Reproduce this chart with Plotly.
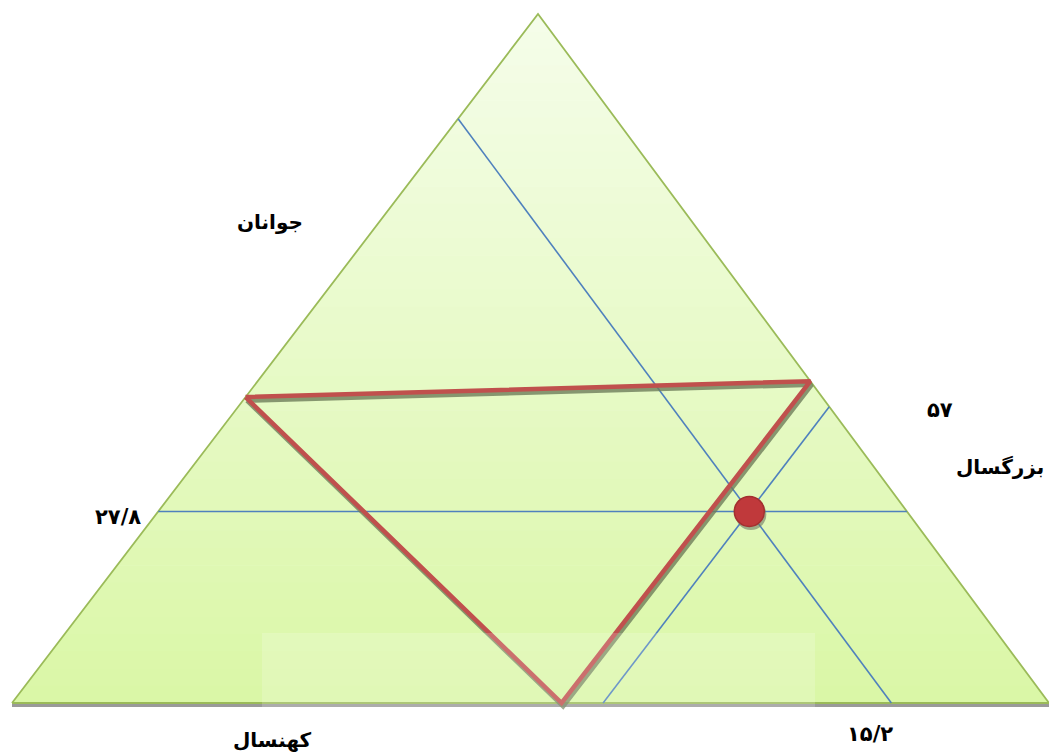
import plotly.graph_objects as go

# ---- data ----
groups = ["جوانان", "بزرگسال", "کهنسال"]      # youth, adult, elderly
values = [27.8, 57.0, 15.2]                    # percent
# reference (red) triangle vertices as compositions (youth, adult, elderly) in percent
ref_youth = [44.4, 46.7, 0.0]
ref_adult = [0.0, 53.3, 53.0]
ref_elder = [55.6, 0.0, 47.0]

# ---- geometry (pixel space of the page) ----
W, Hpx = 1049, 753
APEX = (538, 14)     # youth vertex
BL = (12, 703)       # elderly vertex
BR = (1049, 703)     # adult vertex


def tern(y, a, e):
    s = y + a + e
    y, a, e = y / s, a / s, e / s
    x = y * APEX[0] + a * BR[0] + e * BL[0]
    yy = y * APEX[1] + a * BR[1] + e * BL[1]
    return x, yy


def fa(v):
    digits = "۰۱۲۳۴۵۶۷۸۹"
    s = ("%g" % v).replace(".", "/")
    return "".join(digits[int(c)] if c.isdigit() else c for c in s)


fig = go.Figure()
shapes = []

# gradient fill of the triangle
N = 40
c0 = (245, 253, 234)
c1 = (218, 247, 166)
for i in range(N):
    t0, t1 = i / N, (i + 1) / N
    ya, yb = APEX[1] + (BL[1] - APEX[1]) * t0, APEX[1] + (BL[1] - APEX[1]) * t1 + 0.6
    xl0 = APEX[0] + (BL[0] - APEX[0]) * t0
    xr0 = APEX[0] + (BR[0] - APEX[0]) * t0
    xl1 = APEX[0] + (BL[0] - APEX[0]) * min(1, t1 + 0.6 / 689)
    xr1 = APEX[0] + (BR[0] - APEX[0]) * min(1, t1 + 0.6 / 689)
    tm = (t0 + t1) / 2
    col = tuple(round(c0[k] + (c1[k] - c0[k]) * tm) for k in range(3))
    shapes.append(dict(type="path", layer="below",
                       path=f"M{xl0},{ya} L{xr0},{ya} L{xr1},{yb} L{xl1},{yb} Z",
                       fillcolor="rgb(%d,%d,%d)" % col, line=dict(width=0)))

# base shadow
shapes.append(dict(type="line", x0=BL[0], y0=BL[1] + 2.5, x1=BR[0], y1=BR[1] + 2.5,
                   line=dict(color="rgba(120,120,120,0.75)", width=3), layer="below"))

# faint watermark band
shapes.append(dict(type="rect", x0=262, x1=815, y0=633, y1=753,
                   fillcolor="rgba(255,255,255,0.18)", line=dict(width=0), layer="above"))

fig.update_layout(shapes=shapes)

# outline
fig.add_trace(go.Scatter(x=[BL[0], APEX[0], BR[0], BL[0]], y=[BL[1], APEX[1], BR[1], BL[1]],
                         mode="lines", line=dict(color="#9bbb59", width=1.8),
                         hoverinfo="skip", showlegend=False))

Y, A, E = values
# blue construction lines
blue = dict(color="#4f81bd", width=1.6)
lines = [
    (tern(Y, 0, 100 - Y), tern(Y, 100 - Y, 0)),      # constant youth
    (tern(0, 100 - E, E), tern(100 - E, 0, E)),      # constant elderly
    (tern(0, A, 100 - A), tern(100 - A, A, 0)),      # constant adult
]
for p, q in lines:
    fig.add_trace(go.Scatter(x=[p[0], q[0]], y=[p[1], q[1]], mode="lines", line=blue,
                             hoverinfo="skip", showlegend=False))

# red reference triangle with shadow
rp = [tern(ref_youth[i], ref_adult[i], ref_elder[i]) for i in range(3)]
rx = [p[0] for p in rp] + [rp[0][0]]
ry = [p[1] for p in rp] + [rp[0][1]]
fig.add_trace(go.Scatter(x=[v + 1.5 for v in rx], y=[v + 3.5 for v in ry], mode="lines",
                         line=dict(color="rgba(110,125,90,0.8)", width=4.5),
                         hoverinfo="skip", showlegend=False))
fig.add_trace(go.Scatter(x=rx, y=ry, mode="lines",
                         line=dict(color="#c0504d", width=4.5),
                         hoverinfo="skip", showlegend=False))

# point
px, py = tern(Y, A, E)
fig.add_trace(go.Scatter(x=[px + 1.5], y=[py + 3], mode="markers",
                         marker=dict(size=31, color="rgba(110,120,100,0.6)"),
                         hoverinfo="skip", showlegend=False))
fig.add_trace(go.Scatter(x=[px], y=[py], mode="markers",
                         marker=dict(size=30, color="#c0393b",
                                     line=dict(color="#a3302f", width=1.5)),
                         hoverinfo="skip", showlegend=False))

# labels
ann = [
    (270, 222, groups[0], "center", 20),
    (118, 517, fa(Y), "center", 21),
    (940, 410, fa(A), "center", 21),
    (1046, 467, groups[1], "right", 20),
    (272, 740, groups[2], "center", 20),
    (870, 734, fa(E), "center", 21),
]
fig.update_layout(annotations=[dict(x=x, y=y, text="<b>%s</b>" % t, showarrow=False,
                                    xref="x", yref="y", xanchor=xa,
                                    font=dict(family="DejaVu Sans", size=s, color="black"))
                               for x, y, t, xa, s in ann])

fig.update_layout(width=W, height=Hpx, margin=dict(l=0, r=0, t=0, b=0),
                  paper_bgcolor="white", plot_bgcolor="white",
                  xaxis=dict(range=[0, W], visible=False, fixedrange=True),
                  yaxis=dict(range=[Hpx, 0], visible=False, fixedrange=True))

fig.write_html("out.html", config={"displayModeBar": False},
               post_script="document.body.style.margin='0';document.body.style.overflow='hidden';")
